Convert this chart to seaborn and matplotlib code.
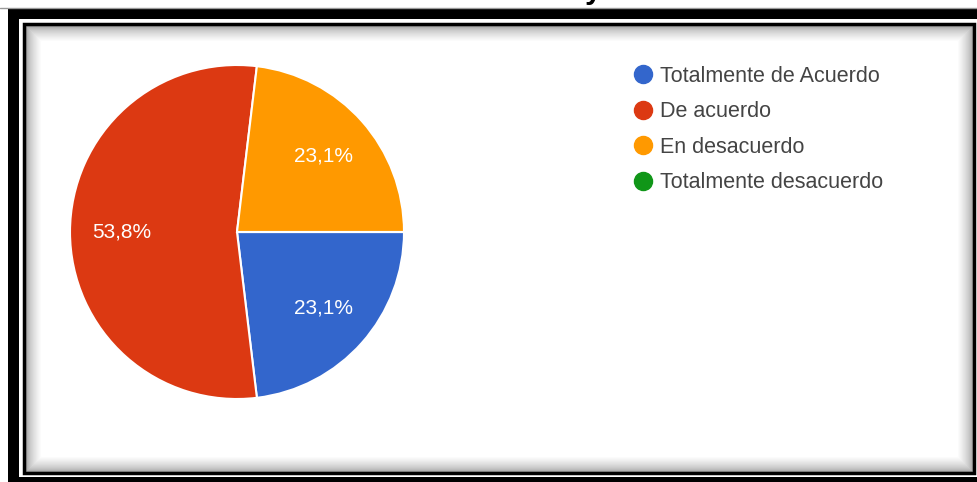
import matplotlib
matplotlib.use("Agg")
import matplotlib.pyplot as plt
from matplotlib.patches import Rectangle
from matplotlib.lines import Line2D
import seaborn as sns

# datos del gráfico
categorias = ["Totalmente de Acuerdo", "De acuerdo", "En desacuerdo", "Totalmente desacuerdo"]
porcentajes = [23.1, 53.8, 23.1, 0.0]
colores = ["#3366cc", "#dc3912", "#ff9900", "#109618"]

sns.set_theme(style="white")
plt.rcParams["font.family"] = ["Liberation Sans", "DejaVu Sans"]

W, H = 978, 482
fig = plt.figure(figsize=(W / 100, H / 100), dpi=100)
fig.patch.set_facecolor("white")

# fondo / marco de la captura (coordenadas en pixeles)
bg = fig.add_axes([0, 0, 1, 1], zorder=-1)
bg.set_xlim(0, W)
bg.set_ylim(H, 0)
bg.axis("off")

# sombra interior
for i in range(16):
    g = 0.62 + 0.38 * (i / 15) ** 0.6
    bg.add_patch(Rectangle((26 + i, 26 + i), (972 - 26) - 2 * i, (471 - 26) - 2 * i,
                           fill=False, edgecolor=(g, g, g), linewidth=1.0))
bg.add_patch(Rectangle((42, 42), 972 - 26 - 32, 471 - 26 - 32, facecolor="white", edgecolor="none"))

# bandas negras y líneas finas
bg.add_patch(Rectangle((8, 8), W - 8, 11, facecolor="black", edgecolor="none"))
bg.add_patch(Rectangle((8, 8), 11, H - 8, facecolor="black", edgecolor="none"))
bg.add_patch(Rectangle((8, 477), W - 8, 5, facecolor="black", edgecolor="none"))
bg.add_line(Line2D([0, W], [7.5, 7.5], color="#999999", linewidth=1))
bg.add_patch(Rectangle((23.5, 23.5), 974 - 23.5, 473 - 23.5, fill=False, edgecolor="black", linewidth=2.5))

# trozo de título cortado arriba
fig.text(593 / W, 1.0 + 2 / H, "y", fontsize=22, fontweight="bold", ha="center", va="baseline",
         color="black")

# pastel
ax = fig.add_axes([70 / W, (H - 399) / H, 334 / W, 334 / H])
wedges, texts, autotexts = ax.pie(
    porcentajes, colors=colores, startangle=0, counterclock=False,
    autopct=lambda p: (f"{p:.1f}%".replace(".", ",") if p > 0 else ""),
    pctdistance=0.69, wedgeprops=dict(edgecolor="white", linewidth=1.5),
    textprops=dict(color="white", fontsize=15))
ax.set_xlim(-1, 1)
ax.set_ylim(-1, 1)
ax.set_aspect("equal")

# leyenda
handles = [Line2D([0], [0], marker="o", linestyle="none", markersize=13,
                  markerfacecolor=c, markeredgecolor=c) for c in colores]
fig.legend(handles, categorias, loc="upper left", bbox_to_anchor=(632 / W, 1 - 66 / H),
           frameon=False, fontsize=15.5, labelcolor="#444444", handletextpad=0.3,
           labelspacing=0.67, handlelength=1.0, borderaxespad=0, borderpad=0)

fig.savefig("out.png", dpi=100, facecolor="white")
